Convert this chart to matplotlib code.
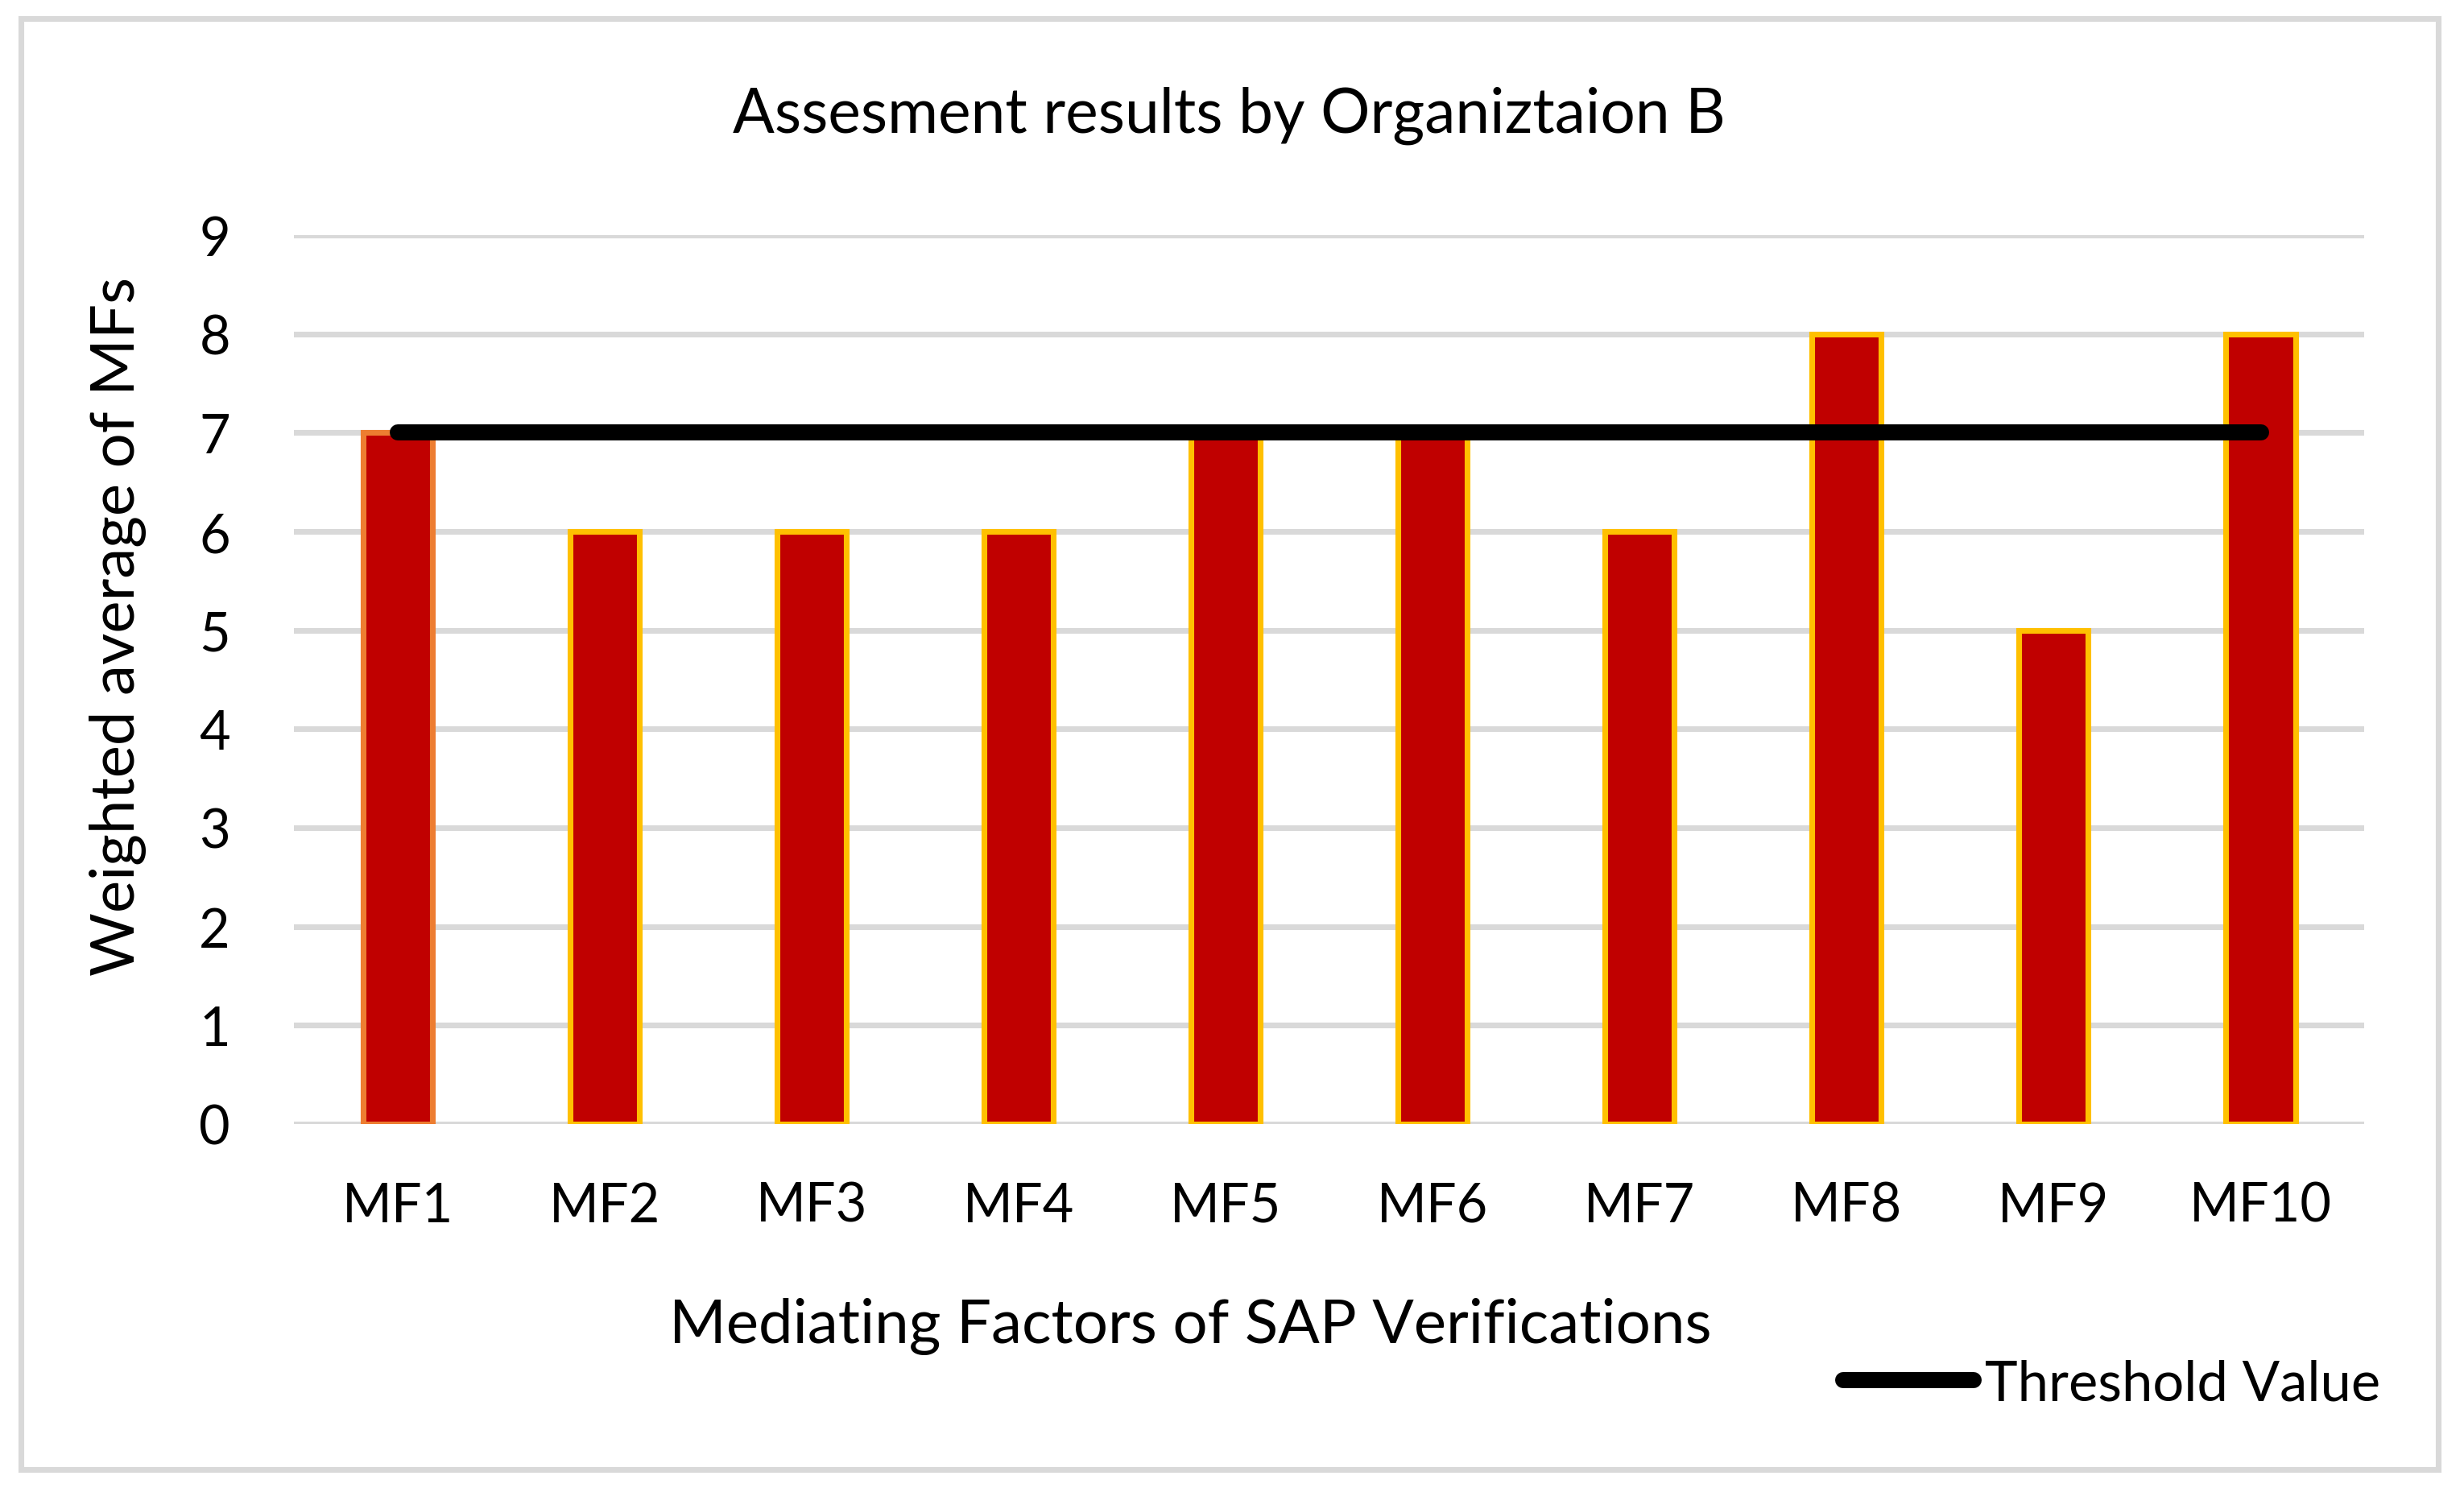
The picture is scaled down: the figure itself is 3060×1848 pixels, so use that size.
import numpy as np
import matplotlib.pyplot as plt
from matplotlib.lines import Line2D
from matplotlib.patches import Rectangle

plt.rcParams['font.family'] = ['Lato', 'DejaVu Sans']

categories = ['MF1', 'MF2', 'MF3', 'MF4', 'MF5', 'MF6', 'MF7', 'MF8', 'MF9', 'MF10']
values = [7, 6, 6, 6, 7, 7, 6, 8, 5, 8]
threshold = [7] * len(categories)
yticks = [0, 1, 2, 3, 4, 5, 6, 7, 8, 9]

fig = plt.figure(figsize=(10.2, 6.1633), dpi=300)
ax = fig.add_axes([0.1193, 0.2445, 0.8402, 0.597])

x = np.arange(len(categories))
edges = ['#ED7D31'] + ['#FFC000'] * (len(categories) - 1)
ax.bar(x, values, width=0.335, color='#C00000', edgecolor=edges, linewidth=1.7, zorder=2)
ax.plot(x, threshold, color='black', linewidth=4.8, solid_capstyle='round', zorder=3)

ax.set_xlim(-0.5, len(categories) - 0.5)
ax.set_ylim(0, 9)
ax.set_yticks(yticks)
ax.set_xticks(x)
ax.set_xticklabels(categories)
ax.tick_params(length=0, labelsize=16)
ax.tick_params(axis='x', pad=17)
ax.tick_params(axis='y', pad=19)
ax.grid(axis='y', color='#D9D9D9', linewidth=1.7, zorder=0)
ax.set_axisbelow(True)
for s in ax.spines.values():
    s.set_visible(False)

ax.set_xlabel('Mediating Factors of SAP Verifications', fontsize=18.3, va='center')
ax.xaxis.set_label_coords(0.433, -0.227)
ax.set_ylabel('Weighted average of MFs', fontsize=18.3, va='center')
ax.yaxis.set_label_coords(-0.085, 0.561)
fig.text(0.4987, 0.922, 'Assesment results by Organiztaion B', fontsize=18.4, ha='center', va='center')

handle = Line2D([], [], color='black', linewidth=4.8, solid_capstyle='round')
fig.legend([handle], ['Threshold Value'], loc='center right', bbox_to_anchor=(0.966, 0.07),
           frameon=False, fontsize=16.5, handlelength=2.36, handletextpad=0.2,
           borderpad=0, borderaxespad=0)

fig.add_artist(Rectangle((0.0085, 0.0125), 0.981, 0.9745, transform=fig.transFigure,
                         fill=False, edgecolor='#D9D9D9', linewidth=1.7))

fig.savefig('out.png', dpi=300)
